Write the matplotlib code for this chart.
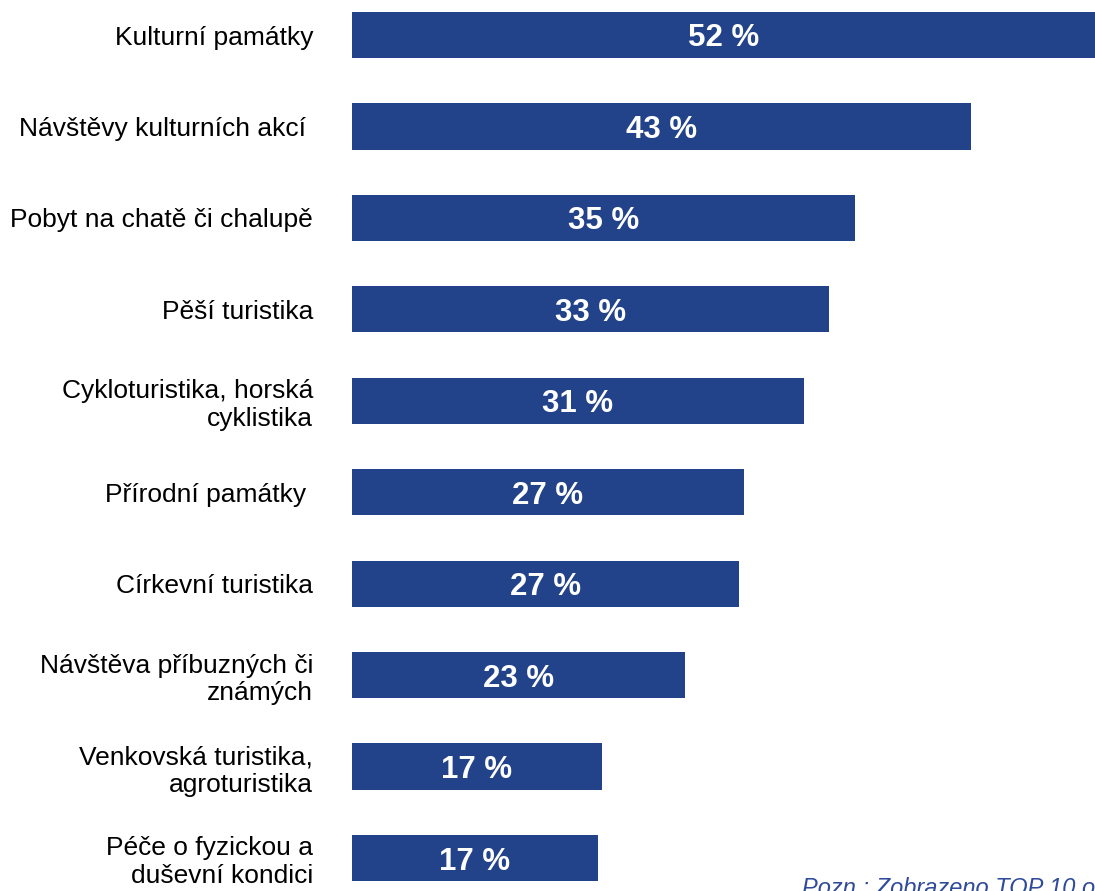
import matplotlib
matplotlib.use("Agg")
import matplotlib.pyplot as plt

## data
categories = [
    "Kulturní památky",
    "Návštěvy kulturních akcí ",
    "Pobyt na chatě či chalupě",
    "Pěší turistika",
    "Cykloturistika, horská\ncyklistika",
    "Přírodní památky ",
    "Církevní turistika",
    "Návštěva příbuzných či\nznámých",
    "Venkovská turistika,\nagroturistika",
    "Péče o fyzickou a\nduševní kondici",
]
values = [52.0, 43.3, 35.2, 33.4, 31.6, 27.4, 27.1, 23.3, 17.5, 17.2]
value_labels = ["52 %", "43 %", "35 %", "33 %", "31 %", "27 %", "27 %", "23 %", "17 %", "17 %"]
note = "Pozn.: Zobrazeno TOP 10 odpovědí"

bar_color = "#22428a"
plt.rcParams['font.family'] = ['Liberation Sans', 'DejaVu Sans']

W, H = 1095, 891
fig = plt.figure(figsize=(W / 100, H / 100), dpi=100)
left = 352 / W
ax = fig.add_axes([left, 0, 1 - left, 1])

ypos = list(range(len(categories)))
ax.barh(ypos, values, height=0.505, color=bar_color)
for y, v, lab in zip(ypos, values, value_labels):
    ax.text(v / 2, y, lab, ha="center", va="center_baseline", color="white",
            fontsize=22.5, fontweight="bold")

# spacing: top bar centre at 35px, bottom at 858px
step = (858 - 35) / 9
ax.set_ylim(9 + (H - 858) / step, -35 / step)
ax.set_xlim(0, 52)

ax.set_yticks(ypos)
ax.set_yticklabels(categories, fontsize=19, linespacing=1.2)
ax.tick_params(axis="y", length=0, pad=28)
ax.tick_params(axis="x", bottom=False, labelbottom=False)
for s in ax.spines.values():
    s.set_visible(False)
ax.patch.set_visible(False)

# note sits partly below the bottom edge, as in the original
fig.text(802 / W, 1 - 895 / H, note, ha="left", va="baseline",
         fontsize=17, style="italic", color="#2f4a9a")

fig.savefig("out.png", dpi=100)
